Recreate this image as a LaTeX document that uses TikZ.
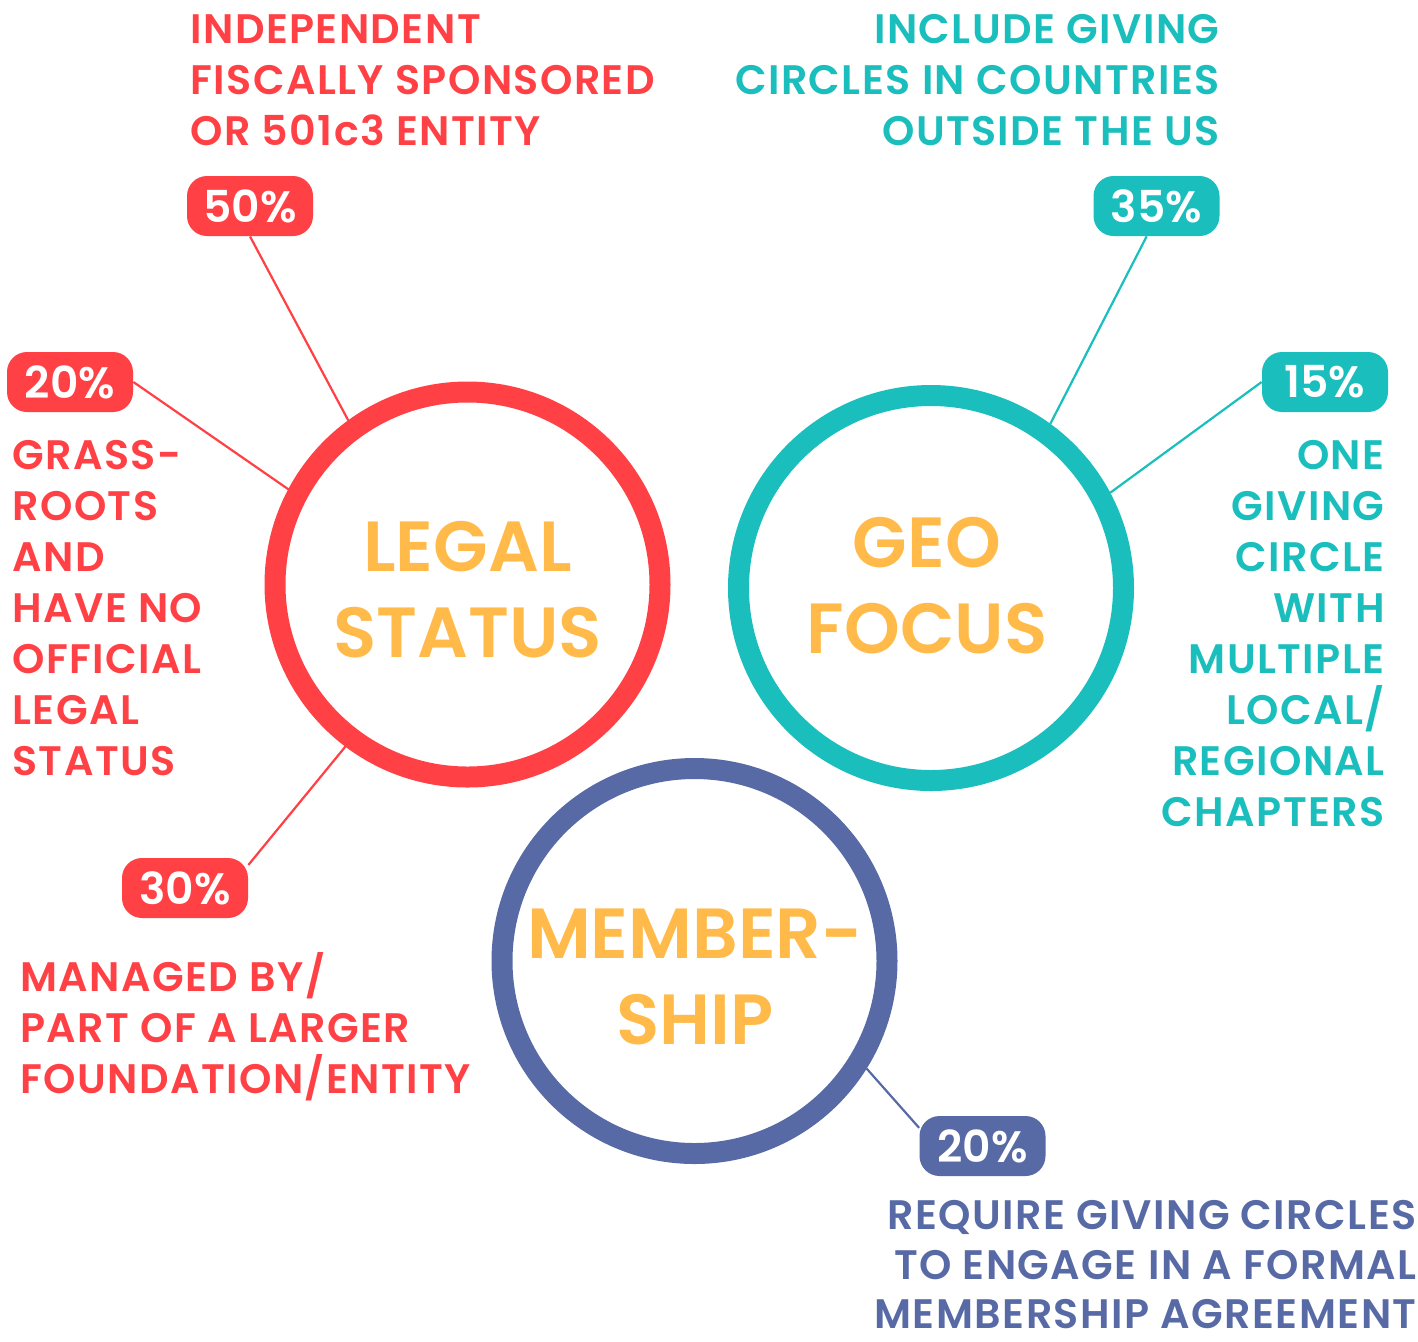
\documentclass[tikz,border=0pt]{standalone}
\usepackage{fontspec}
\setmainfont{Poppins}[UprightFont=* SemiBold, BoldFont=* Bold]
\newfontfamily\labelfont{Poppins}[UprightFont=* SemiBold, LetterSpace=3.5]
\definecolor{cred}{HTML}{FF4045}
\definecolor{cteal}{HTML}{1ABEBD}
\definecolor{cblue}{HTML}{586AA5}
\definecolor{cgold}{HTML}{FFBA4A}
\tikzset{
  ring/.style={circle, draw=#1, line width=10.5pt, minimum size=192.5pt, inner sep=0pt},
  title/.style={anchor=north, align=center, inner sep=0pt, text=cgold,
    font=\fontsize{35.5}{43}\selectfont},
  pill/.style={fill=#1, text=white, rounded corners=10pt, minimum width=63pt,
    minimum height=30pt, inner sep=0pt, font=\fontsize{22}{26}\selectfont},
  note/.style={inner sep=0pt, text=#1, font=\labelfont\fontsize{20.6}{25.5}\selectfont},
  link/.style={draw=#1, line width=1.1pt},
}
\begin{document}
\begin{tikzpicture}[x=0.5pt, y=-0.5pt]
\useasboundingbox (0,0) rectangle (1418,1341);

% the three rings
\node[ring=cred]  (legal)  at (467.5,584.5) {};
\node[ring=cteal] (geo)    at (931,588) {};
\node[ring=cblue] (member) at (694.5,961) {};

\node[title] (legalT)  at (467.5,521) {LEGAL\\STATUS};
\node[title] (geoT)    at (927,517)   {GEO\\FOCUS};
\node[title] (memberT) at (695,908)   {MEMBER-\\SHIP};

% percentage tags
\node[pill=cred]  (p50) at (250,206)    {50\%};
\node[pill=cred]  (p20) at (70,382)     {20\%};
\node[pill=cred]  (p30) at (185,888)    {30\%};
\node[pill=cteal] (p35) at (1156.5,206) {35\%};
\node[pill=cteal] (p15) at (1325,382)   {15\%};
\node[pill=cblue] (pm)  at (982.5,1146) {20\%};

% leader lines
\draw[link=cred]  (p50.south) -- (legal.126);
\draw[link=cred]  (p20.east)  -- (legal.152.5);
\draw[link=cred]  (p30.20)    -- (legal.233.6);
\draw[link=cteal] (p35.252)   -- (geo.54.6);
\draw[link=cteal] (p15.west)  -- (geo.28);
\draw[link=cblue] (pm.164)    -- (member.-32.7);

% descriptions
\node[note=cred, anchor=north west, align=left] (n50) at (190,14)
  {INDEPENDENT\\FISCALLY SPONSORED\\OR 501c3 ENTITY};
\node[note=cred, anchor=north west, align=left] (n20) at (12,440)
  {GRASS-\\ROOTS\\AND\\HAVE NO\\OFFICIAL\\LEGAL\\STATUS};
\node[note=cred, anchor=north west, align=left] (n30) at (20,952)
  {MANAGED BY/\\PART OF A LARGER\\FOUNDATION/ENTITY};
\node[note=cteal, anchor=north east, align=right] (n35) at (1220,14)
  {INCLUDE GIVING\\CIRCLES IN COUNTRIES\\OUTSIDE THE US};
\node[note=cteal, anchor=north east, align=right] (n15) at (1385,440)
  {ONE\\GIVING\\CIRCLE\\WITH\\MULTIPLE\\LOCAL/\\REGIONAL\\CHAPTERS};
\node[note=cblue, anchor=north east, align=right,
      font=\labelfont\fontsize{20.6}{24.75}\selectfont] (nm) at (1417,1200)
  {REQUIRE GIVING CIRCLES\\TO ENGAGE IN A FORMAL\\MEMBERSHIP AGREEMENT};
\end{tikzpicture}
\end{document}
